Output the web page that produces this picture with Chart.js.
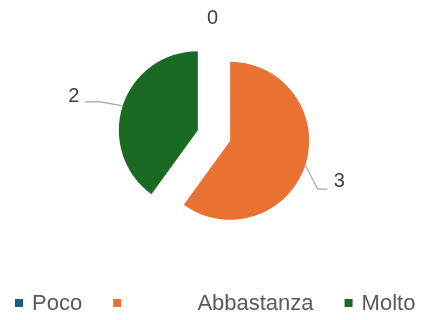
<!DOCTYPE html>
<html><head><meta charset="utf-8">
<script src="https://cdn.jsdelivr.net/npm/chart.js@4.4.1/dist/chart.umd.min.js"></script>
<style>html,body{margin:0;padding:0;background:#fff;overflow:hidden}</style>
</head><body>
<canvas id="c" width="423" height="320"></canvas>
<script>
// ---- data ----
const categories = ['Poco', 'Abbastanza', 'Molto'];
const values = [0, 3, 2];
const legendText = ['Poco', '           Abbastanza', 'Molto'];
const colors = ['#156082', '#E97132', '#196B24'];

// ---- styling / layout ----
const FONT = '"Liberation Sans", Arial, sans-serif';
const EXPLODE = 68;      // Chart.js offset (translation = offset/4)
const RADIUS = 79;
// label placement relative to the outer mid-point of each slice
const labelLayout = [
  {tx: -1.5, ty: -21, line: null},
  {tx: 34, ty: 16, line: [[12.5, 24], [22, 24]]},
  {tx: -49, ty: -9.5, line: [[-22, -4], [-38, -4]]}
];

// keep equal radii for exploded slices (compensate Chart.js radius/angle tweak)
const equalRadius = {
  id: 'equalRadius',
  afterDatasetUpdate(chart, args) {
    const off = EXPLODE / 4;
    args.meta.data.forEach(arc => {
      const circ = arc.circumference;
      if (!circ) return;
      const fix = 1 - Math.sin(Math.min(Math.PI, circ));
      const rOff = off * fix;
      arc.outerRadius = RADIUS - rOff;
      const d = (rOff / Math.PI) / RADIUS / 2;
      arc.startAngle -= d;
      arc.endAngle += d;
    });
  }
};

const valueLabels = {
  id: 'valueLabels',
  afterDatasetsDraw(chart) {
    const ctx = chart.ctx;
    const meta = chart.getDatasetMeta(0);
    const off = EXPLODE / 4;
    ctx.save();
    meta.data.forEach((arc, i) => {
      const mid = (arc.startAngle + arc.endAngle) / 2;
      const px = arc.x + Math.cos(mid) * (off + RADIUS);
      const py = arc.y + Math.sin(mid) * (off + RADIUS);
      const L = labelLayout[i];
      if (L.line) {
        ctx.strokeStyle = '#a6a6a6';
        ctx.lineWidth = 1.2;
        ctx.beginPath();
        ctx.moveTo(px, py);
        L.line.forEach(p => ctx.lineTo(px + p[0], py + p[1]));
        ctx.stroke();
      }
      ctx.fillStyle = '#404040';
      ctx.font = '20px ' + FONT;
      ctx.textAlign = 'center';
      ctx.textBaseline = 'middle';
      ctx.fillText(String(values[i]), px + L.tx, py + L.ty);
    });
    ctx.restore();
  }
};

const bottomLegend = {
  id: 'bottomLegend',
  afterDraw(chart) {
    const ctx = chart.ctx;
    ctx.save();
    ctx.font = '22px ' + FONT;
    ctx.textBaseline = 'middle';
    ctx.textAlign = 'left';
    let x = 15;
    const y = 303;
    legendText.forEach((t, i) => {
      ctx.fillStyle = colors[i];
      ctx.fillRect(x, y - 4, 8, 8);
      x += 8 + 9;
      ctx.fillStyle = '#595959';
      ctx.fillText(t, x, y + 1);
      x += ctx.measureText(t).width + 31;
    });
    ctx.restore();
  }
};

new Chart(document.getElementById('c'), {
  type: 'pie',
  data: {
    labels: categories,
    datasets: [{
      data: values,
      backgroundColor: colors,
      borderWidth: 0,
      offset: EXPLODE,
      radius: RADIUS
    }]
  },
  options: {
    responsive: false,
    devicePixelRatio: 1,
    animation: false,
    events: [],
    layout: {padding: {left: 30, right: 25, top: 20, bottom: 69}},
    plugins: {legend: {display: false}, tooltip: {enabled: false}}
  },
  plugins: [equalRadius, valueLabels, bottomLegend]
});
</script>
</body></html>
